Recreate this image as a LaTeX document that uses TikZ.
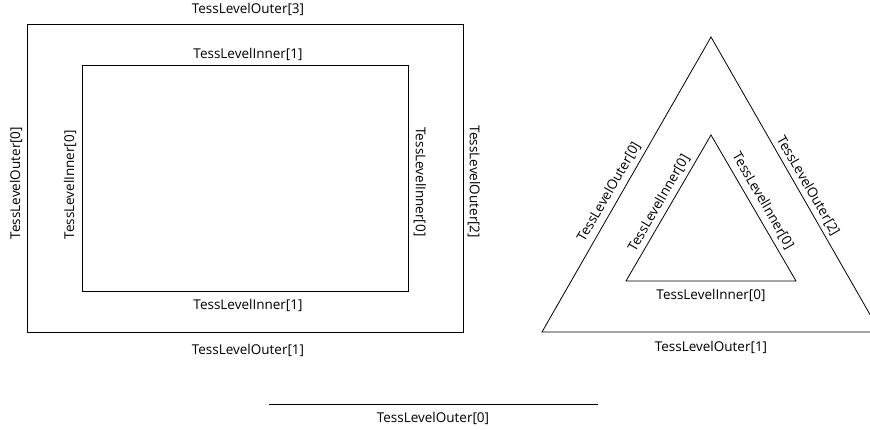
\documentclass[tikz,border=0pt]{standalone}
\usepackage{fontspec}
\setmainfont{Open Sans}
\begin{document}
\begin{tikzpicture}[x=1pt,y=-1pt,
  edge/.style={draw=black,line width=0.8pt},
  lbl/.style={font=\fontsize{13.5}{15}\selectfont,inner sep=0pt}]
\useasboundingbox (0,0) rectangle (870,430);
% quad
\coordinate (oa) at (27,24);
\coordinate (ob) at (463,24);
\coordinate (oc) at (463,332);
\coordinate (od) at (27,332);
\coordinate (ia) at (82,65);
\coordinate (ib) at (408,65);
\coordinate (ic) at (408,291);
\coordinate (id) at (82,291);
\draw[edge] (oa) -- (ob) -- (oc) -- (od) -- cycle;
\draw[edge] (ia) -- (ib) -- (ic) -- (id) -- cycle;
\node[lbl] (qo3) at (248,9) {TessLevelOuter[3]};
\node[lbl] (qo1) at (248,350) {TessLevelOuter[1]};
\node[lbl,rotate=90] (qo0) at (16,183) {TessLevelOuter[0]};
\node[lbl,rotate=-90] (qo2) at (474,182) {TessLevelOuter[2]};
\node[lbl] (qi1t) at (248,54) {TessLevelInner[1]};
\node[lbl] (qi1b) at (248,305) {TessLevelInner[1]};
\node[lbl,rotate=90] (qi0l) at (70,185) {TessLevelInner[0]};
\node[lbl,rotate=-90] (qi0r) at (420,182) {TessLevelInner[0]};
% triangle
\coordinate (ta) at (711,37);
\coordinate (tb) at (542,332);
\coordinate (tc) at (880,332);
\coordinate (sa) at (711,135);
\coordinate (sb) at (626,281);
\coordinate (sc) at (796,281);
\draw[edge] (ta) -- (tb) -- (tc) -- cycle;
\draw[edge] (sa) -- (sb) -- (sc) -- cycle;
\node[lbl] (to1) at (711,347) {TessLevelOuter[1]};
\node[lbl] (ti0b) at (711,295) {TessLevelInner[0]};
\node[lbl,rotate=60] (to0) at (609,192) {TessLevelOuter[0]};
\node[lbl,rotate=-60] (to2) at (808,186) {TessLevelOuter[2]};
\node[lbl,rotate=60] (ti0l) at (659,203) {TessLevelInner[0]};
\node[lbl,rotate=-60] (ti0r) at (763,201) {TessLevelInner[0]};
% isoline
\coordinate (la) at (269,404);
\coordinate (lb) at (598,404);
\draw[edge] (la) -- (lb);
\node[lbl] (lo0) at (433,418) {TessLevelOuter[0]};
\end{tikzpicture}
\end{document}
